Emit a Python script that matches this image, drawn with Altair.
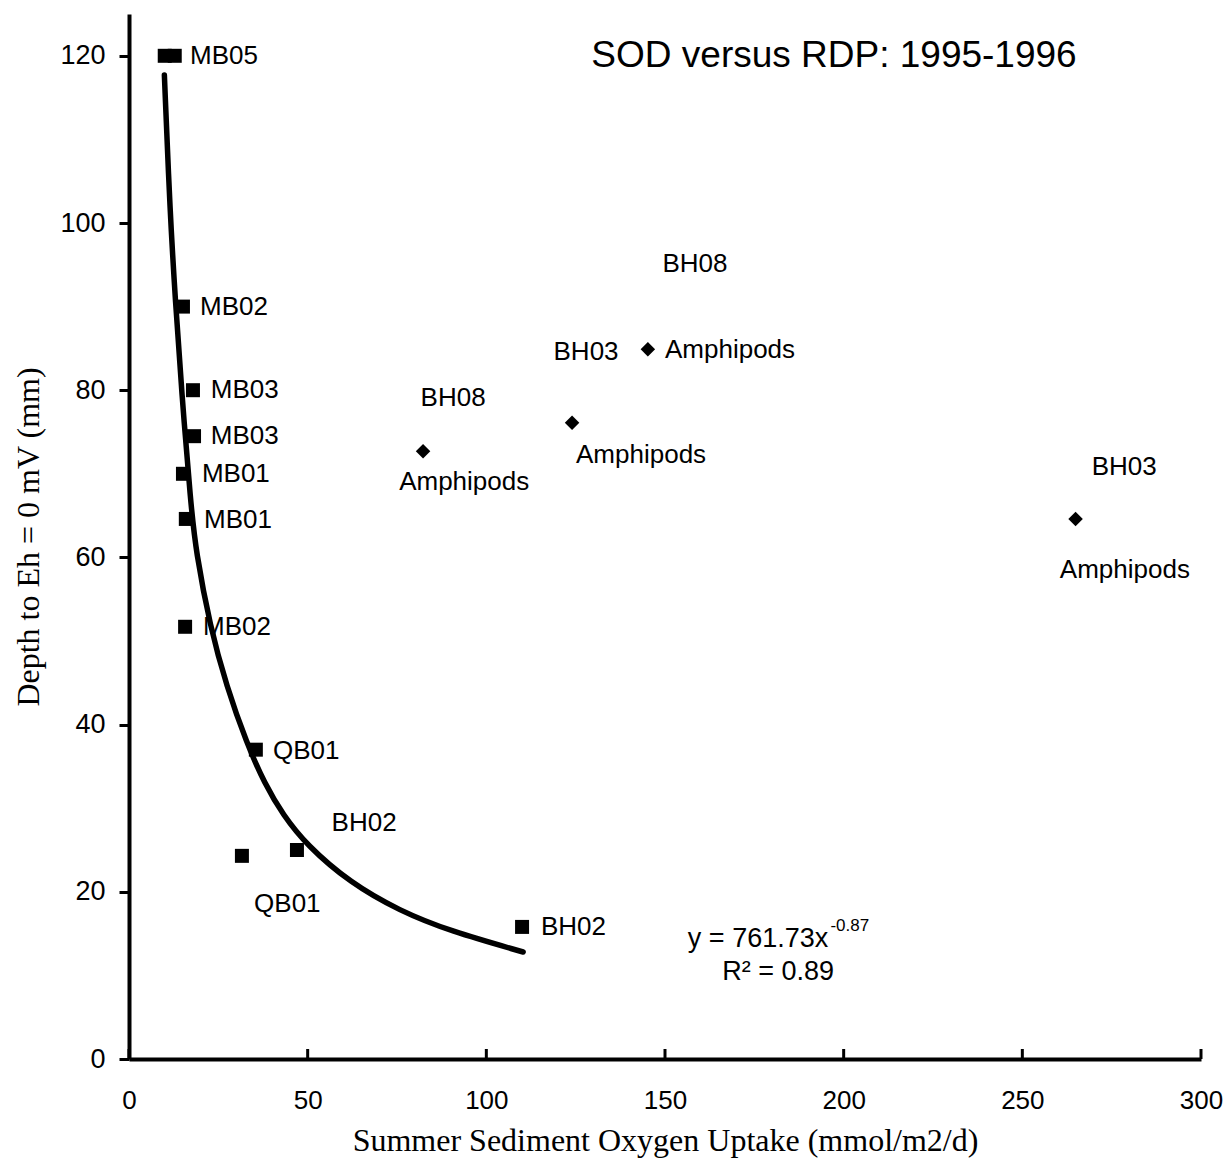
import altair as alt
import pandas as pd

# ---- data ----
sq_x = [10.0, 12.8, 15.1, 17.9, 18.2, 15.1, 15.9, 15.7, 35.5, 31.6, 47.0, 110.0]
sq_y = [120.0, 120.0, 90.0, 80.0, 74.5, 70.0, 64.6, 51.7, 37.0, 24.3, 25.0, 15.8]

dm_x = [82.3, 124.0, 145.2, 264.9]
dm_y = [72.7, 76.1, 84.9, 64.6]

curve_x = [9.9, 11.5, 13.0, 14.7, 17.3, 18.7, 22.7, 27.3, 32.9, 38.0, 43.1, 49.7, 61.8, 75.8, 89.8, 110.3]
curve_y = [117.7, 101.0, 90.6, 80.0, 66.3, 60.8, 51.7, 44.6, 37.8, 32.9, 29.2, 25.6, 21.1, 17.7, 15.3, 12.8]

# labels placed to the right of their anchor (left-aligned text)
lab_l_text = ["MB05", "MB02", "MB03", "MB03", "MB01", "MB01", "MB02", "QB01", "BH02", "QB01", "BH02", "Amphipods"]
lab_l_x = [17.1, 19.9, 22.9, 22.9, 20.4, 21.0, 20.7, 40.3, 56.7, 35.0, 115.3, 150.0]
lab_l_y = [120.0, 90.0, 80.0, 74.5, 70.0, 64.5, 51.7, 36.9, 28.2, 18.6, 15.8, 84.8]

# labels centred on their anchor
lab_c_text = ["BH08", "BH03", "BH08", "Amphipods", "Amphipods", "BH03", "Amphipods"]
lab_c_x = [158.4, 127.9, 90.7, 93.8, 143.3, 278.5, 278.7]
lab_c_y = [95.1, 84.6, 79.1, 69.0, 72.3, 70.8, 58.5]

title_text = ["SOD versus RDP: 1995-1996"]
title_x = [197.3]
title_y = [120.0]

eq_text = ["y = 761.73x", "R\u00b2 = 0.89"]
eq_x = [156.4, 166.0]
eq_y = [13.4, 9.45]
sup_text = ["-0.87"]
sup_x = [196.3]
sup_y = [15.3]

x_ticks = [0, 50, 100, 150, 200, 250, 300]
y_ticks = [0, 20, 40, 60, 80, 100, 120]

W, H = 1072, 1045

xscale = alt.Scale(domain=[0, 300], nice=False, zero=False)
yscale = alt.Scale(domain=[0, 125], nice=False, zero=False)

sq_df = pd.DataFrame({"x": sq_x, "y": sq_y})
dm_df = pd.DataFrame({"x": dm_x, "y": dm_y})
cv_df = pd.DataFrame({"x": curve_x, "y": curve_y, "o": list(range(len(curve_x)))})
ll_df = pd.DataFrame({"t": lab_l_text, "x": lab_l_x, "y": lab_l_y})
lc_df = pd.DataFrame({"t": lab_c_text, "x": lab_c_x, "y": lab_c_y})
ti_df = pd.DataFrame({"t": title_text, "x": title_x, "y": title_y})
eq_df = pd.DataFrame({"t": eq_text, "x": eq_x, "y": eq_y})
sp_df = pd.DataFrame({"t": sup_text, "x": sup_x, "y": sup_y})
xt_df = pd.DataFrame({"x": x_ticks})

x_axis = alt.Axis(
    title="Summer Sediment Oxygen Uptake (mmol/m2/d)",
    values=x_ticks, ticks=False, grid=False, labelFlush=False,
    domainColor="black", domainWidth=4,
    labelFont="Liberation Sans", labelFontSize=26, labelColor="black", labelPadding=28,
    titleFont="Liberation Serif", titleFontSize=32, titleFontWeight="normal",
    titleColor="black", titlePadding=12,
)
y_axis = alt.Axis(
    title="Depth to Eh = 0 mV (mm)",
    values=y_ticks, grid=False, labelFlush=False,
    domainColor="black", domainWidth=4,
    tickColor="black", tickWidth=3, tickSize=10,
    labelFont="Liberation Sans", labelFontSize=27, labelColor="black", labelPadding=14,
    titleFont="Liberation Serif", titleFontSize=32, titleFontWeight="normal",
    titleColor="black", titlePadding=14,
)

curve = alt.Chart(cv_df).mark_line(
    color="black", strokeWidth=5.5, interpolate="basis", strokeCap="round"
).encode(
    x=alt.X("x:Q", scale=xscale, axis=x_axis),
    y=alt.Y("y:Q", scale=yscale, axis=y_axis),
    order="o:Q",
)

squares = alt.Chart(sq_df).mark_point(
    shape="square", filled=True, color="black", size=196, opacity=1
).encode(x=alt.X("x:Q", scale=xscale), y=alt.Y("y:Q", scale=yscale))

diamonds = alt.Chart(dm_df).mark_point(
    shape="diamond", filled=True, color="black", size=210, opacity=1
).encode(x=alt.X("x:Q", scale=xscale), y=alt.Y("y:Q", scale=yscale))

xticks = alt.Chart(xt_df).mark_rule(color="black", strokeWidth=3).encode(
    x=alt.X("x:Q", scale=xscale), y=alt.value(H), y2=alt.value(H - 10)
)

lab_left = alt.Chart(ll_df).mark_text(
    align="left", baseline="middle", font="Liberation Sans", fontSize=26, color="black"
).encode(x=alt.X("x:Q", scale=xscale), y=alt.Y("y:Q", scale=yscale), text="t:N")

lab_center = alt.Chart(lc_df).mark_text(
    align="center", baseline="middle", font="Liberation Sans", fontSize=26, color="black"
).encode(x=alt.X("x:Q", scale=xscale), y=alt.Y("y:Q", scale=yscale), text="t:N")

title = alt.Chart(ti_df).mark_text(
    align="center", baseline="middle", font="Liberation Sans", fontSize=37, color="black"
).encode(x=alt.X("x:Q", scale=xscale), y=alt.Y("y:Q", scale=yscale), text="t:N")

eq = alt.Chart(eq_df).mark_text(
    align="left", baseline="alphabetic", font="Liberation Sans", fontSize=27, color="black"
).encode(x=alt.X("x:Q", scale=xscale), y=alt.Y("y:Q", scale=yscale), text="t:N")

sup = alt.Chart(sp_df).mark_text(
    align="left", baseline="alphabetic", font="Liberation Sans", fontSize=17, color="black"
).encode(x=alt.X("x:Q", scale=xscale), y=alt.Y("y:Q", scale=yscale), text="t:N")

chart = alt.layer(
    curve, xticks, squares, diamonds, lab_left, lab_center, title, eq, sup
).properties(
    width=W, height=H,
    autosize=alt.AutoSizeParams(type="none"),
    padding={"left": 121, "top": 6, "right": 22, "bottom": 104},
    background="white",
).configure_view(stroke=None)

chart.save("out.html", embed_options={"renderer": "svg", "actions": False})
